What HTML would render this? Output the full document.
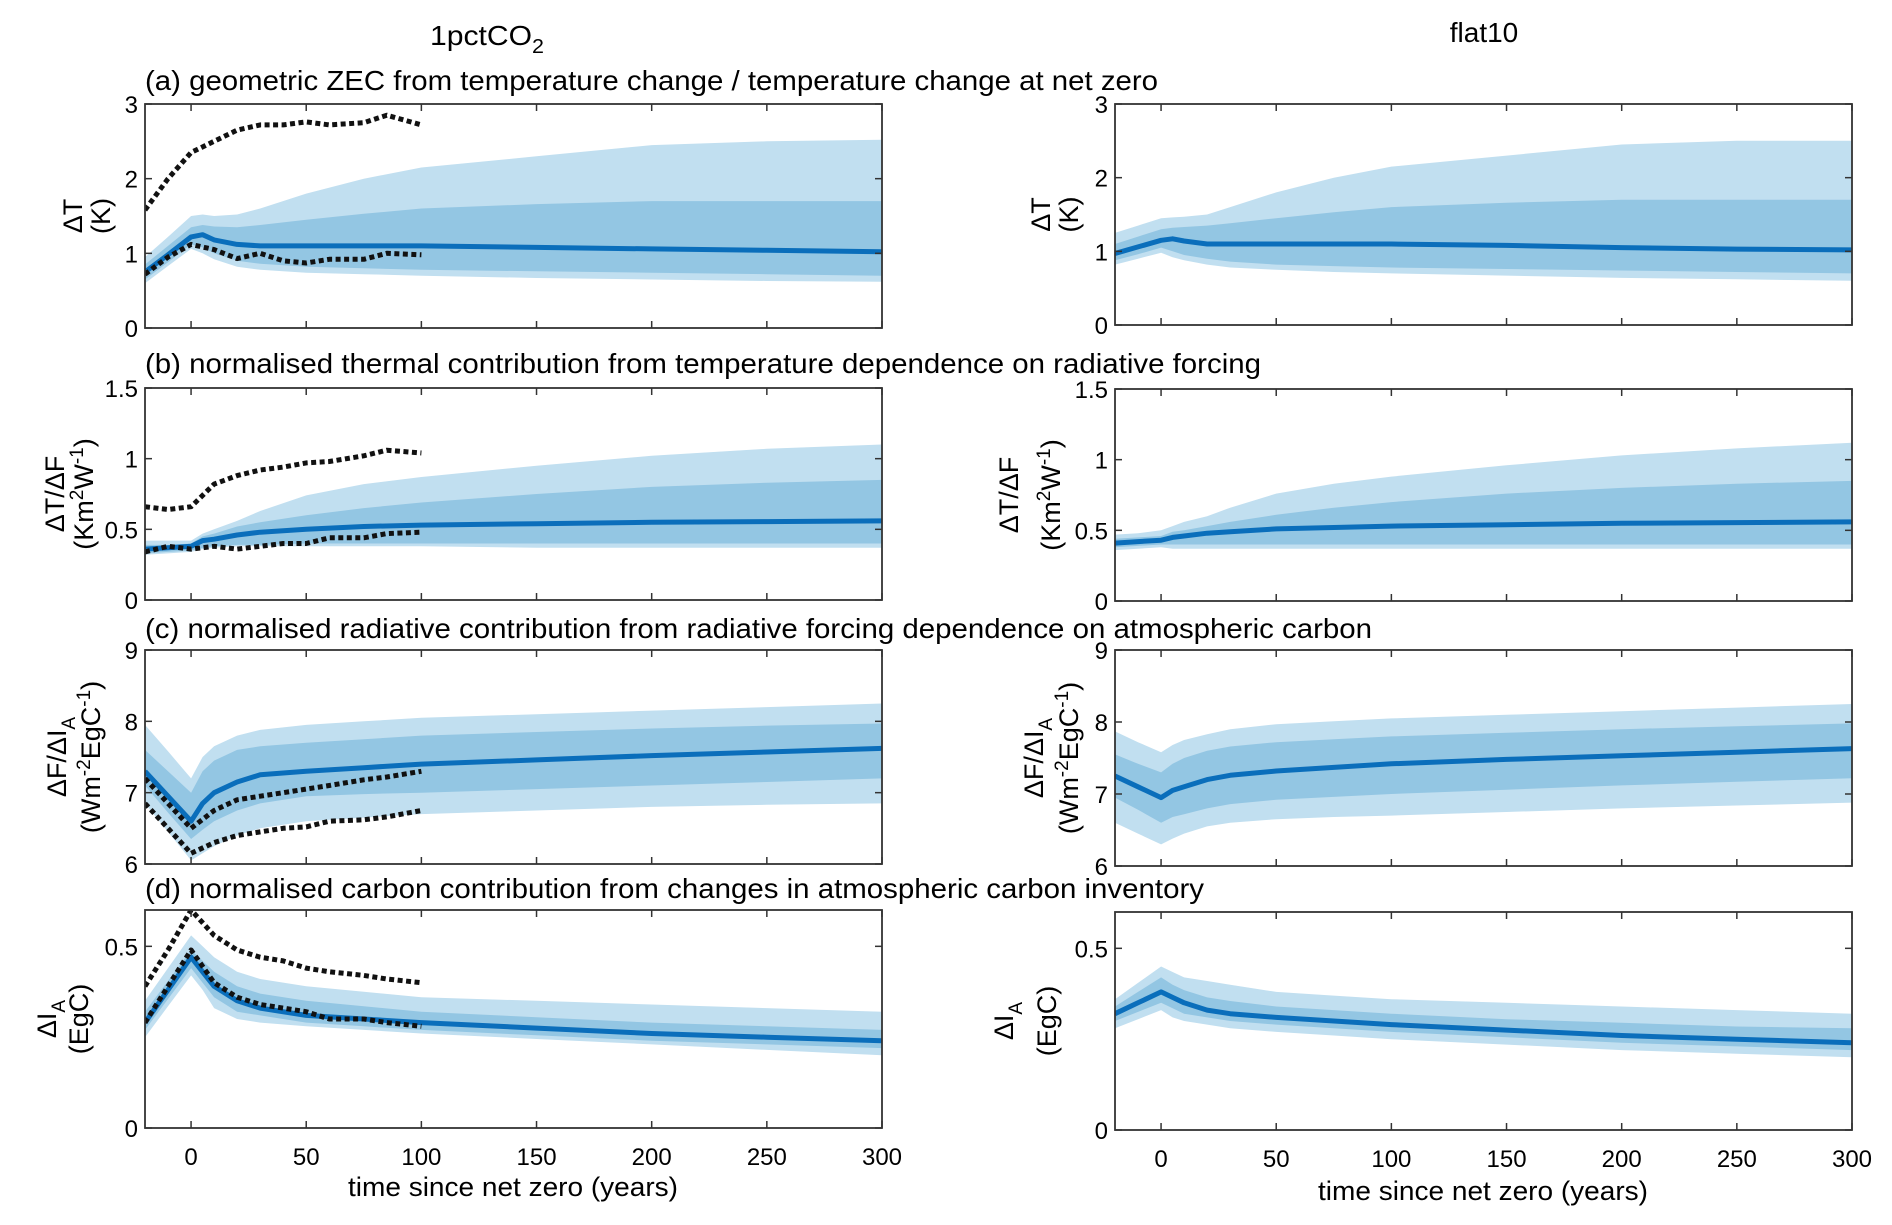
<!DOCTYPE html>
<html><head><meta charset="utf-8">
<style>
html,body{margin:0;padding:0;background:#fff;}
svg{display:block;font-family:"Liberation Sans",sans-serif;}
</style></head>
<body>
<svg id="chart" width="1892" height="1225" viewBox="0 0 1892 1225" xmlns="http://www.w3.org/2000/svg">
<text x="430" y="45" font-size="28" textLength="114" lengthAdjust="spacingAndGlyphs">1pctCO<tspan font-size="20" dy="8">2</tspan></text>
<text x="1484" y="42" font-size="28" text-anchor="middle">flat10</text>
<text x="145" y="90" font-size="28" textLength="1013" lengthAdjust="spacingAndGlyphs">(a) geometric ZEC from temperature change / temperature change at net zero</text>
<text x="145" y="373" font-size="28" textLength="1116" lengthAdjust="spacingAndGlyphs">(b) normalised thermal contribution from temperature dependence on radiative forcing</text>
<text x="145" y="638" font-size="28" textLength="1227" lengthAdjust="spacingAndGlyphs">(c) normalised radiative contribution from radiative forcing dependence on atmospheric carbon</text>
<text x="145" y="898" font-size="28" textLength="1059" lengthAdjust="spacingAndGlyphs">(d) normalised carbon contribution from changes in atmospheric carbon inventory</text>
<text x="513" y="1196" font-size="27" text-anchor="middle" textLength="330" lengthAdjust="spacingAndGlyphs">time since net zero (years)</text>
<text x="1483" y="1200" font-size="27" text-anchor="middle" textLength="330" lengthAdjust="spacingAndGlyphs">time since net zero (years)</text>
<g id="plots"></g>
</svg>
<script>
// shared x grids (years since net zero)
const X = [-20,-10,0,5,10,20,30,50,75,100,150,200,250,300];
const DX = [-20,-10,0,10,20,30,40,50,60,75,85,100];
const xTicks = [0,50,100,150,200,250,300];

// (a) temperature change
const a1Med = [0.75,0.98,1.22,1.25,1.18,1.12,1.10,1.10,1.10,1.10,1.08,1.06,1.04,1.02];
const a1InLo = [0.65,0.88,1.12,1.08,1.0,0.9,0.86,0.82,0.8,0.78,0.76,0.74,0.72,0.70];
const a1InHi = [0.85,1.1,1.35,1.38,1.36,1.35,1.38,1.45,1.53,1.6,1.66,1.7,1.7,1.7];
const a1OutLo = [0.6,0.83,1.06,1.0,0.92,0.82,0.78,0.74,0.72,0.70,0.67,0.65,0.63,0.62];
const a1OutHi = [0.95,1.22,1.5,1.52,1.5,1.52,1.6,1.8,2.0,2.15,2.3,2.45,2.5,2.52];
const a1DotHi = [1.58,2.0,2.35,2.5,2.65,2.72,2.72,2.76,2.72,2.75,2.85,2.72];
const a1DotLo = [0.72,0.95,1.12,1.05,0.93,1.0,0.9,0.87,0.92,0.92,1.0,0.98];
const a2Med = [0.97,1.06,1.15,1.17,1.14,1.1,1.1,1.1,1.1,1.1,1.08,1.05,1.03,1.02];
const a2InLo = [0.88,0.96,1.05,1.0,0.95,0.9,0.86,0.82,0.8,0.78,0.76,0.74,0.72,0.7];
const a2InHi = [1.1,1.2,1.3,1.32,1.33,1.35,1.38,1.45,1.53,1.6,1.66,1.7,1.7,1.7];
const a2OutLo = [0.82,0.9,0.98,0.92,0.88,0.82,0.78,0.75,0.72,0.7,0.67,0.64,0.62,0.6];
const a2OutHi = [1.25,1.35,1.45,1.46,1.47,1.5,1.6,1.8,2.0,2.15,2.3,2.45,2.5,2.5];
const aTicks = [0,1,2,3];

// (b) thermal contribution
const b1Med = [0.36,0.37,0.38,0.42,0.43,0.46,0.48,0.5,0.52,0.53,0.54,0.55,0.555,0.56];
const b1InLo = [0.33,0.34,0.35,0.37,0.38,0.39,0.39,0.40,0.40,0.40,0.40,0.40,0.40,0.40];
const b1InHi = [0.39,0.39,0.40,0.45,0.47,0.52,0.55,0.6,0.65,0.69,0.75,0.8,0.83,0.85];
const b1OutLo = [0.32,0.33,0.34,0.36,0.37,0.38,0.38,0.38,0.38,0.38,0.37,0.37,0.37,0.37];
const b1OutHi = [0.42,0.42,0.42,0.47,0.5,0.56,0.63,0.74,0.82,0.87,0.95,1.02,1.07,1.1];
const b1DotHi = [0.66,0.64,0.66,0.82,0.88,0.92,0.94,0.97,0.98,1.02,1.06,1.04];
const b1DotLo = [0.34,0.38,0.36,0.38,0.36,0.38,0.40,0.40,0.44,0.44,0.47,0.48];
const b2Med = [0.41,0.42,0.43,0.45,0.46,0.48,0.49,0.51,0.52,0.53,0.54,0.55,0.555,0.56];
const b2InLo = [0.38,0.39,0.40,0.40,0.40,0.40,0.40,0.40,0.40,0.40,0.40,0.40,0.40,0.40];
const b2InHi = [0.44,0.45,0.46,0.49,0.5,0.53,0.56,0.61,0.66,0.7,0.76,0.8,0.83,0.85];
const b2OutLo = [0.36,0.37,0.38,0.37,0.37,0.37,0.37,0.37,0.37,0.37,0.37,0.37,0.37,0.37];
const b2OutHi = [0.47,0.48,0.5,0.53,0.56,0.6,0.66,0.76,0.83,0.88,0.96,1.03,1.08,1.12];
const bTicks = [0,0.5,1,1.5];

// (c) radiative contribution
const c1Med = [7.3,6.95,6.6,6.85,7.0,7.15,7.25,7.3,7.35,7.4,7.46,7.52,7.57,7.62];
const c1InLo = [7.1,6.72,6.35,6.48,6.6,6.75,6.85,6.95,6.98,7.0,7.05,7.1,7.15,7.2];
const c1InHi = [7.6,7.3,7.0,7.3,7.45,7.6,7.65,7.7,7.75,7.8,7.85,7.9,7.94,7.97];
const c1OutLo = [6.85,6.45,6.05,6.15,6.25,6.4,6.5,6.6,6.65,6.7,6.75,6.8,6.83,6.85];
const c1OutHi = [7.95,7.58,7.2,7.5,7.65,7.8,7.88,7.95,8.0,8.05,8.1,8.15,8.2,8.25];
const c1DotHi = [7.2,6.85,6.5,6.75,6.9,6.95,7.0,7.05,7.1,7.18,7.22,7.3];
const c1DotLo = [6.85,6.5,6.15,6.3,6.4,6.45,6.5,6.52,6.6,6.62,6.66,6.75];
const c2Med = [7.25,7.1,6.95,7.05,7.1,7.2,7.26,7.32,7.37,7.42,7.48,7.53,7.58,7.63];
const c2InLo = [6.95,6.78,6.6,6.68,6.72,6.8,6.86,6.92,6.96,7.0,7.06,7.12,7.17,7.22];
const c2InHi = [7.55,7.42,7.3,7.42,7.5,7.6,7.66,7.72,7.76,7.8,7.85,7.9,7.94,7.98];
const c2OutLo = [6.6,6.45,6.3,6.38,6.45,6.55,6.6,6.65,6.68,6.7,6.75,6.8,6.84,6.88];
const c2OutHi = [7.87,7.72,7.58,7.68,7.75,7.83,7.9,7.97,8.01,8.05,8.1,8.15,8.2,8.25];
const cTicks = [6,7,8,9];

// (d) carbon contribution
const d1Med = [0.29,0.38,0.47,0.43,0.39,0.35,0.33,0.31,0.30,0.29,0.275,0.26,0.25,0.24];
const d1InLo = [0.27,0.355,0.44,0.40,0.36,0.32,0.31,0.29,0.28,0.27,0.255,0.24,0.23,0.22];
const d1InHi = [0.32,0.405,0.49,0.46,0.43,0.39,0.37,0.35,0.335,0.32,0.305,0.29,0.28,0.27];
const d1OutLo = [0.25,0.335,0.42,0.38,0.33,0.30,0.29,0.28,0.27,0.26,0.245,0.23,0.215,0.2];
const d1OutHi = [0.35,0.44,0.53,0.50,0.47,0.43,0.41,0.39,0.375,0.36,0.35,0.34,0.33,0.32];
const d1DotHi = [0.39,0.49,0.6,0.53,0.49,0.47,0.46,0.44,0.43,0.42,0.41,0.40];
const d1DotLo = [0.29,0.39,0.49,0.40,0.36,0.34,0.33,0.32,0.30,0.30,0.29,0.28];
const d2Med = [0.32,0.35,0.38,0.365,0.35,0.33,0.32,0.31,0.30,0.29,0.275,0.26,0.25,0.24];
const d2InLo = [0.30,0.325,0.35,0.335,0.32,0.31,0.30,0.29,0.28,0.27,0.255,0.24,0.23,0.22];
const d2InHi = [0.34,0.38,0.42,0.40,0.385,0.365,0.355,0.34,0.33,0.32,0.305,0.295,0.285,0.28];
const d2OutLo = [0.28,0.305,0.33,0.31,0.30,0.29,0.28,0.27,0.26,0.25,0.235,0.22,0.21,0.2];
const d2OutHi = [0.36,0.405,0.45,0.435,0.42,0.41,0.40,0.38,0.37,0.36,0.35,0.34,0.33,0.32];
const dTicks = [0,0.5];

const NS = "http://www.w3.org/2000/svg";
const root = document.getElementById('plots');
function mk(tag, attrs, parent){
  const e = document.createElementNS(NS, tag);
  for (const k in attrs) e.setAttribute(k, attrs[k]);
  (parent||root).appendChild(e);
  return e;
}

function panel(id, box, yMin, yMax, yTicks, series, showX, ylab){
  const g = mk('g', {});
  
  
  const sx = v => box.x0 + (v + 20) / 320 * (box.x1 - box.x0);
  const sy = v => box.y1 - (v - yMin) / (yMax - yMin) * (box.y1 - box.y0);
  const clip = mk('clipPath', {id: id + '-clip'}, g);
  mk('rect', {x: box.x0, y: box.y0, width: box.x1 - box.x0, height: box.y1 - box.y0}, clip);
  const plot = mk('g', {'clip-path': 'url(#' + id + '-clip)'}, g);
  function band(lo, hi, fill, name){
    let d = '';
    X.forEach((x, i) => { d += (i ? 'L' : 'M') + sx(x).toFixed(1) + ',' + sy(hi[i]).toFixed(1); });
    for (let i = X.length - 1; i >= 0; i--) d += 'L' + sx(X[i]).toFixed(1) + ',' + sy(lo[i]).toFixed(1);
    const p = mk('path', {d: d + 'Z', fill: fill, stroke: 'none'}, plot);
    
    
  }
  function line(xs, ys, attrs, name){
    let d = '';
    xs.forEach((x, i) => { d += (i ? 'L' : 'M') + sx(x).toFixed(1) + ',' + sy(ys[i]).toFixed(1); });
    const p = mk('path', Object.assign({d: d, fill: 'none', 'stroke-linejoin': 'round'}, attrs), plot);
    
    
  }
  band(series.outLo, series.outHi, '#c1dff0', 'outer-range-band');
  band(series.inLo, series.inHi, '#93c6e3', 'inner-range-band');
  line(X, series.med, {stroke: '#0a6ebb', 'stroke-width': 5}, 'median-line');
  if (series.dotHi){
    line(DX, series.dotHi, {stroke: '#111', 'stroke-width': 5, 'stroke-dasharray': '5 3.5'}, 'dotted-upper-line');
    line(DX, series.dotLo, {stroke: '#111', 'stroke-width': 5, 'stroke-dasharray': '5 3.5'}, 'dotted-lower-line');
  }
  const fr = mk('rect', {x: box.x0, y: box.y0, width: box.x1 - box.x0, height: box.y1 - box.y0, fill: 'none', stroke: '#333', 'stroke-width': 1.8}, g);
  
  
  xTicks.forEach(t => {
    const x = sx(t);
    mk('line', {x1: x, x2: x, y1: box.y1, y2: box.y1 - 7, stroke: '#333', 'stroke-width': 1.5}, g);
    mk('line', {x1: x, x2: x, y1: box.y0, y2: box.y0 + 7, stroke: '#333', 'stroke-width': 1.5}, g);
    if (showX){
      const tl = mk('text', {x: x, y: box.y1 + 37, 'font-size': 24, 'text-anchor': 'middle'}, g);
      tl.textContent = t;
      
      
    }
  });
  yTicks.forEach(t => {
    const y = sy(t);
    mk('line', {x1: box.x0, x2: box.x0 + 7, y1: y, y2: y, stroke: '#333', 'stroke-width': 1.5}, g);
    mk('line', {x1: box.x1, x2: box.x1 - 7, y1: y, y2: y, stroke: '#333', 'stroke-width': 1.5}, g);
    const tl = mk('text', {x: box.x0 - 7, y: y + 9, 'font-size': 24, 'text-anchor': 'end'}, g);
    tl.textContent = t;
    
    
  });
  const cy = (box.y0 + box.y1) / 2;
  const l1 = mk('text', {transform: 'translate(' + ylab.x1 + ',' + cy + ') rotate(-90)', 'font-size': 27, 'text-anchor': 'middle'}, g);
  l1.innerHTML = ylab.t1;
  
  
  const l2 = mk('text', {transform: 'translate(' + ylab.x2 + ',' + cy + ') rotate(-90)', 'font-size': 27, 'text-anchor': 'middle'}, g);
  l2.innerHTML = ylab.t2;
  
  
}

const L = {x0: 145, x1: 882}, R = {x0: 1115, x1: 1852};
const labA = {t1: 'ΔT', t2: '(K)'};
const labB = {t1: 'ΔT/ΔF', t2: '(Km<tspan dy="-10" font-size="19">2</tspan><tspan dy="10">W</tspan><tspan dy="-10" font-size="19">-1</tspan><tspan dy="10">)</tspan>'};
const labC = {t1: 'ΔF/ΔI<tspan dy="9" font-size="19">A</tspan>', t2: '(Wm<tspan dy="-10" font-size="19">-2</tspan><tspan dy="10">EgC</tspan><tspan dy="-10" font-size="19">-1</tspan><tspan dy="10">)</tspan>'};
const labD = {t1: 'ΔI<tspan dy="9" font-size="19">A</tspan>', t2: '(EgC)'};

panel('panel-a-1pctco2', {x0: L.x0, x1: L.x1, y0: 104, y1: 328}, 0, 3, aTicks,
  {med: a1Med, inLo: a1InLo, inHi: a1InHi, outLo: a1OutLo, outHi: a1OutHi, dotHi: a1DotHi, dotLo: a1DotLo}, false,
  Object.assign({x1: 82, x2: 110}, labA));
panel('panel-a-flat10', {x0: R.x0, x1: R.x1, y0: 104, y1: 325}, 0, 3, aTicks,
  {med: a2Med, inLo: a2InLo, inHi: a2InHi, outLo: a2OutLo, outHi: a2OutHi}, false,
  Object.assign({x1: 1050, x2: 1078}, labA));
panel('panel-b-1pctco2', {x0: L.x0, x1: L.x1, y0: 388, y1: 600}, 0, 1.5, bTicks,
  {med: b1Med, inLo: b1InLo, inHi: b1InHi, outLo: b1OutLo, outHi: b1OutHi, dotHi: b1DotHi, dotLo: b1DotLo}, false,
  Object.assign({x1: 64, x2: 93}, labB));
panel('panel-b-flat10', {x0: R.x0, x1: R.x1, y0: 389, y1: 601}, 0, 1.5, bTicks,
  {med: b2Med, inLo: b2InLo, inHi: b2InHi, outLo: b2OutLo, outHi: b2OutHi}, false,
  Object.assign({x1: 1018, x2: 1060}, labB));
panel('panel-c-1pctco2', {x0: L.x0, x1: L.x1, y0: 650, y1: 864}, 6, 9, cTicks,
  {med: c1Med, inLo: c1InLo, inHi: c1InHi, outLo: c1OutLo, outHi: c1OutHi, dotHi: c1DotHi, dotLo: c1DotLo}, false,
  Object.assign({x1: 66, x2: 100}, labC));
panel('panel-c-flat10', {x0: R.x0, x1: R.x1, y0: 650, y1: 866}, 6, 9, cTicks,
  {med: c2Med, inLo: c2InLo, inHi: c2InHi, outLo: c2OutLo, outHi: c2OutHi}, false,
  Object.assign({x1: 1043, x2: 1078}, labC));
panel('panel-d-1pctco2', {x0: L.x0, x1: L.x1, y0: 910, y1: 1128}, 0, 0.6, dTicks,
  {med: d1Med, inLo: d1InLo, inHi: d1InHi, outLo: d1OutLo, outHi: d1OutHi, dotHi: d1DotHi, dotLo: d1DotLo}, true,
  Object.assign({x1: 56, x2: 88}, labD));
panel('panel-d-flat10', {x0: R.x0, x1: R.x1, y0: 912, y1: 1130}, 0, 0.6, dTicks,
  {med: d2Med, inLo: d2InLo, inHi: d2InHi, outLo: d2OutLo, outHi: d2OutHi}, true,
  Object.assign({x1: 1013, x2: 1056}, labD));
</script>
</body></html>
